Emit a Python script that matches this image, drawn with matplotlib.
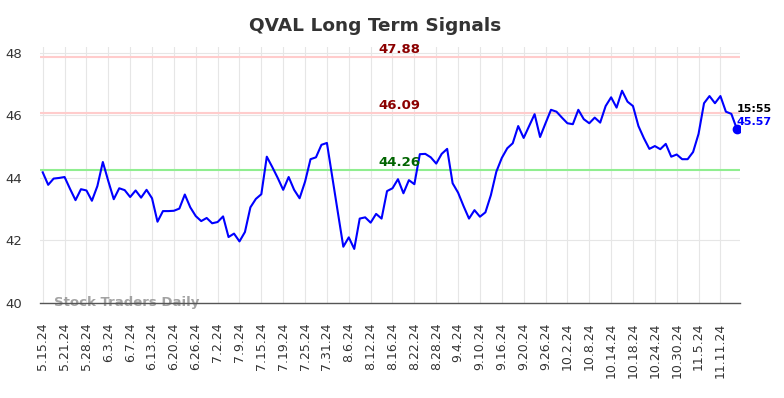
import matplotlib
matplotlib.use("Agg")
import matplotlib.pyplot as plt

tick_labels = ["5.15.24", "5.21.24", "5.28.24", "6.3.24", "6.7.24", "6.13.24", "6.20.24", "6.26.24",
               "7.2.24", "7.9.24", "7.15.24", "7.19.24", "7.25.24", "7.31.24", "8.6.24", "8.12.24",
               "8.16.24", "8.22.24", "8.28.24", "9.4.24", "9.10.24", "9.16.24", "9.20.24", "9.26.24",
               "10.2.24", "10.8.24", "10.14.24", "10.18.24", "10.24.24", "10.30.24", "11.5.24", "11.11.24"]

prices = [44.18, 43.78, 43.98, 44.00, 44.03, 43.65, 43.29, 43.64, 43.60, 43.27,
          43.74, 44.51, 43.90, 43.32, 43.67, 43.61, 43.39, 43.60, 43.37, 43.62,
          43.35, 42.60, 42.94, 42.94, 42.95, 43.02, 43.47, 43.06, 42.78, 42.62,
          42.72, 42.55, 42.59, 42.77, 42.11, 42.22, 41.97, 42.27, 43.06, 43.33,
          43.48, 44.68, 44.35, 44.00, 43.62, 44.03, 43.62, 43.35, 43.88, 44.60,
          44.66, 45.06, 45.12, 44.00, 42.90, 41.80, 42.10, 41.73, 42.70, 42.74,
          42.57, 42.85, 42.70, 43.58, 43.67, 43.96, 43.51, 43.93, 43.80, 44.76,
          44.77, 44.66, 44.46, 44.77, 44.93, 43.83, 43.53, 43.10, 42.70, 42.97,
          42.76, 42.90, 43.45, 44.20, 44.64, 44.95, 45.11, 45.66, 45.28, 45.66,
          46.04, 45.31, 45.75, 46.18, 46.12, 45.93, 45.75, 45.72, 46.18, 45.88,
          45.75, 45.93, 45.77, 46.30, 46.58, 46.25, 46.79, 46.44, 46.30, 45.66,
          45.27, 44.93, 45.02, 44.92, 45.09, 44.68, 44.75, 44.60, 44.60, 44.83,
          45.41, 46.39, 46.62, 46.39, 46.62, 46.12, 46.05, 45.57]

levels = [47.88, 46.09, 44.26]
level_colors = ["#ffcccc", "#ffcccc", "#90ee90"]
level_text_colors = ["#8b0000", "#8b0000", "#006400"]
last_time = "15:55"

fig = plt.figure(figsize=(7.84, 3.98), dpi=100)
ax = fig.add_axes([0.051, 0.2387, 0.893, 0.6433])

n = len(prices)
x = list(range(n))
tick_pos = list(range(0, n, 4))[:len(tick_labels)]

for lv, c in zip(levels, level_colors):
    ax.axhline(lv, color=c, lw=1.5, zorder=1)

ax.plot(x, prices, color="#0000ff", lw=1.5, zorder=3)
ax.plot(x[-1], prices[-1], "o", color="#0000ff", ms=6, zorder=4)

mid = 65.3
for lv, tc in zip(levels, level_text_colors):
    ax.text(mid, lv + 0.02, f"{lv:.2f}", color=tc, fontsize=9.5, fontweight="bold",
            ha="center", va="bottom", zorder=5)

ax.text(x[-1] + 0.0, prices[-1] + 0.63, last_time, color="black", fontsize=8, fontweight="bold",
        ha="left", va="center", zorder=5)
ax.text(x[-1] + 0.0, prices[-1] + 0.22, f"{prices[-1]:.2f}", color="#0000ff", fontsize=8,
        fontweight="bold", ha="left", va="center", zorder=5)

ax.text(2, 40.0, "Stock Traders Daily", color="#999999", fontsize=9.5, fontweight="bold",
        ha="left", va="center", zorder=2, alpha=0.9)

ax.set_xlim(-0.5, 127.6)
ax.set_ylim(40, 48.19)
ax.set_yticks([40, 42, 44, 46, 48])
ax.set_xticks(tick_pos)
ax.set_xticklabels(tick_labels, rotation=90, fontsize=9)
ax.tick_params(axis="y", labelsize=9.5, length=0, colors="#333333", pad=13)
ax.tick_params(axis="x", length=0, colors="#333333", pad=14)
ax.grid(True, color="#e6e6e6", lw=0.8, zorder=0)
for s in ["top", "right", "left"]:
    ax.spines[s].set_visible(False)
ax.spines["bottom"].set_color("#555555")
ax.spines["bottom"].set_linewidth(1)
ax.set_axisbelow(True)

fig.text(0.478, 0.935, "QVAL Long Term Signals", fontsize=13.3, fontweight="bold", color="#333333",
         ha="center", va="center")

fig.savefig("out.png", dpi=100)
